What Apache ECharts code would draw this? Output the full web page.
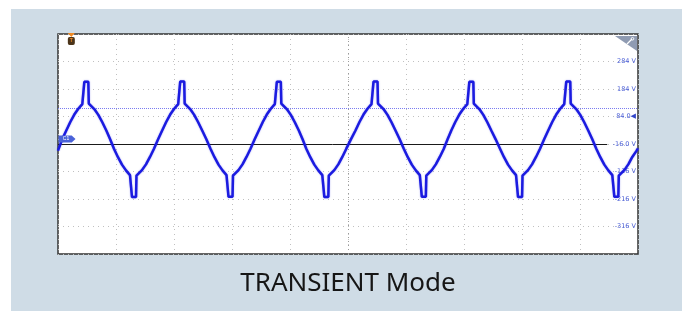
<!DOCTYPE html>
<html>
<head>
<meta charset="utf-8">
<script src="https://cdn.jsdelivr.net/npm/echarts@6/dist/echarts.min.js"></script>
<style>
  html, body { margin: 0; padding: 0; background: #fff; }
  #chart { width: 688px; height: 311px; }
</style>
</head>
<body>
<div id="chart"></div>
<script>
// time in screen divisions (10 across), voltage in V
const traceTime = [
  0.000, 0.074,
  0.143, 0.212, 0.281, 0.350, 0.419, 0.445, 0.454, 0.523, 0.531, 0.557, 0.626, 0.695, 0.764, 0.833, 0.899,
  0.965, 1.034, 1.103, 1.172, 1.241, 1.267, 1.276, 1.345, 1.353, 1.379, 1.448, 1.517, 1.586, 1.655, 1.726,
  1.796, 1.865, 1.934, 2.003, 2.072, 2.098, 2.107, 2.176, 2.184, 2.210, 2.279, 2.348, 2.417, 2.486, 2.558,
  2.629, 2.698, 2.767, 2.836, 2.905, 2.931, 2.940, 3.009, 3.017, 3.043, 3.112, 3.181, 3.250, 3.319, 3.391,
  3.462, 3.531, 3.600, 3.669, 3.738, 3.764, 3.773, 3.842, 3.850, 3.876, 3.945, 4.014, 4.083, 4.152, 4.217,
  4.281, 4.350, 4.419, 4.488, 4.557, 4.583, 4.592, 4.661, 4.669, 4.695, 4.764, 4.833, 4.902, 4.971, 5.050,
  5.129, 5.198, 5.267, 5.336, 5.405, 5.431, 5.440, 5.509, 5.517, 5.543, 5.612, 5.681, 5.750, 5.819, 5.891,
  5.962, 6.031, 6.100, 6.169, 6.238, 6.264, 6.273, 6.342, 6.350, 6.376, 6.445, 6.514, 6.583, 6.652, 6.717,
  6.781, 6.850, 6.919, 6.988, 7.057, 7.083, 7.092, 7.161, 7.169, 7.195, 7.264, 7.333, 7.402, 7.471, 7.546,
  7.621, 7.690, 7.759, 7.828, 7.897, 7.923, 7.932, 8.001, 8.009, 8.035, 8.104, 8.173, 8.242, 8.311, 8.382,
  8.452, 8.521, 8.590, 8.659, 8.728, 8.754, 8.763, 8.832, 8.840, 8.866, 8.935, 9.004, 9.073, 9.142, 9.212,
  9.281, 9.350, 9.419, 9.488, 9.557, 9.583, 9.592, 9.661, 9.669, 9.695, 9.764, 9.833, 9.902, 9.971, 10.000
]
const traceVolts = [
  -40, 2,
  33, 64, 91, 112, 129, 132, 210, 210, 131, 127, 111, 90, 63, 33, 1,
  -33, -64, -91, -112, -129, -132, -209, -209, -131, -127, -111, -90, -63, -33, 1,
  33, 64, 91, 112, 129, 132, 211, 211, 131, 127, 111, 90, 63, 33, 1,
  -33, -64, -91, -112, -129, -132, -208, -208, -131, -127, -111, -90, -63, -33, 1,
  33, 64, 91, 112, 129, 132, 210, 210, 131, 127, 111, 90, 63, 33, 1,
  -33, -64, -91, -112, -129, -132, -209, -209, -131, -127, -111, -90, -63, -33, 1,
  33, 64, 91, 112, 129, 132, 211, 211, 131, 127, 111, 90, 63, 33, 1,
  -33, -64, -91, -112, -129, -132, -208, -208, -131, -127, -111, -90, -63, -33, 1,
  33, 64, 91, 112, 129, 132, 210, 210, 131, 127, 111, 90, 63, 33, 1,
  -33, -64, -91, -112, -129, -132, -209, -209, -131, -127, -111, -90, -63, -33, 1,
  33, 64, 91, 112, 129, 132, 211, 211, 131, 127, 111, 90, 63, 33, 1,
  -33, -64, -91, -112, -129, -132, -208, -208, -131, -127, -111, -90, -63, -42, -32
]

const refLevel = -16        // C1 reference / screen centre, V
const triggerLevel = 115    // trigger level, V
const triggerPos = 0.23     // trigger position marker, div
const refLineEnd = 9.47     // black reference line stops before the scale labels
const chartTitle = 'TRANSIENT Mode'

const chart = echarts.init(document.getElementById('chart'))

// axis runs in volts relative to the reference so the ticks land on the graticule
const traceData = traceTime.map((t, i) => [t, traceVolts[i] - refLevel])

function scaleLabel(value) {
  if (value <= -400 || value >= 400) return ''
  const v = value + refLevel
  const txt = Math.abs(v) < 100 ? v.toFixed(1) : String(v)
  if (v === 84) return txt + '{arr|◀}'
  return txt + ' V'
}

const option = {
  backgroundColor: '#fff',
  animation: false,
  grid: {
    left: 58, right: 50, top: 34, bottom: 57,
    show: true,
    backgroundColor: '#fff',
    borderColor: '#333',
    borderWidth: 1.5
  },
  xAxis: {
    type: 'value',
    min: 0, max: 10, interval: 1,
    axisLine: { show: false },
    axisTick: { show: false },
    axisLabel: { show: false },
    splitLine: { lineStyle: { color: '#c0c0c0', type: [1, 4], width: 1 } }
  },
  yAxis: {
    type: 'value',
    position: 'right',
    min: -400, max: 400, interval: 100,
    axisLine: { show: false },
    axisTick: { show: false },
    axisLabel: {
      inside: true,
      margin: 2,
      fontSize: 6.5,
      fontFamily: 'DejaVu Sans',
      color: '#4b5fd6',
      formatter: scaleLabel,
      rich: { arr: { fontSize: 7, color: '#3346c8' } }
    },
    splitLine: { lineStyle: { color: '#c0c0c0', type: [1, 4], width: 1 } }
  },
  graphic: [
    {
      type: 'rect', z: -10, silent: true,
      shape: { x: 11, y: 9, width: 671, height: 302 },
      style: { fill: '#cfdce6' }
    },
    {
      type: 'polygon', z: 100, silent: true,
      shape: { points: [[615, 36], [637, 36], [637, 51]] },
      style: { fill: '#8f9bb2' }
    },
    {
      type: 'polyline', z: 101, silent: true,
      shape: { points: [[627, 44], [632, 39]] },
      style: { stroke: '#fff', lineWidth: 1.2 }
    },
    {
      type: 'circle', z: 101, silent: true,
      shape: { cx: 632.5, cy: 38.8, r: 1.3 },
      style: { fill: 'none', stroke: '#fff', lineWidth: 0.9 }
    },
    {
      type: 'text', silent: true,
      x: 348, y: 284,
      style: {
        text: chartTitle,
        fill: '#161616',
        font: '26px "Noto Sans", "Open Sans", sans-serif',
        textAlign: 'center',
        textVerticalAlign: 'middle'
      }
    }
  ],
  series: [
    {
      type: 'line',
      data: traceData,
      showSymbol: false,
      symbol: 'none',
      z: 5,
      lineStyle: {
        color: '#1b1be0',
        width: 2.5,
        shadowColor: 'rgba(40, 40, 230, 0.5)',
        shadowBlur: 1.5
      },
      markLine: {
        silent: true,
        symbol: ['none', 'none'],
        label: { show: false },
        z: 3,
        data: [
          { yAxis: triggerLevel - refLevel, lineStyle: { color: '#7a7cf0', type: [1, 1], width: 1 } },
          { xAxis: 5, lineStyle: { color: '#9a9a9a', type: [1, 3], width: 1 } },
          [
            { coord: [0, 0], lineStyle: { color: '#1a1a1a', type: 'solid', width: 1 } },
            { coord: [refLineEnd, 0] }
          ]
        ]
      },
      markPoint: {
        silent: true,
        z: 20,
        data: [
          {
            coord: [0, 0],
            symbol: 'path://M0,0 L14,0 L18,4 L14,8 L0,8 Z',
            symbolSize: [17, 7],
            symbolOffset: [9, -5],
            itemStyle: { color: '#4a62d8' },
            label: { show: true, formatter: 'C1', color: '#fff', fontSize: 5, offset: [-1, 0] }
          },
          {
            coord: [triggerPos, 400],
            symbol: 'triangle',
            symbolRotate: 180,
            symbolSize: [7, 4],
            symbolOffset: [0, 1],
            itemStyle: { color: '#f08a24' },
            label: { show: false }
          },
          {
            coord: [triggerPos, 400],
            symbol: 'roundRect',
            symbolSize: [7, 8],
            symbolOffset: [0, 7],
            itemStyle: { color: '#4b3419' },
            label: { show: true, formatter: 'T', color: '#f08a24', fontSize: 5, fontWeight: 'bold' }
          }
        ]
      }
    }
  ]
}

chart.setOption(option)
</script>
</body>
</html>
